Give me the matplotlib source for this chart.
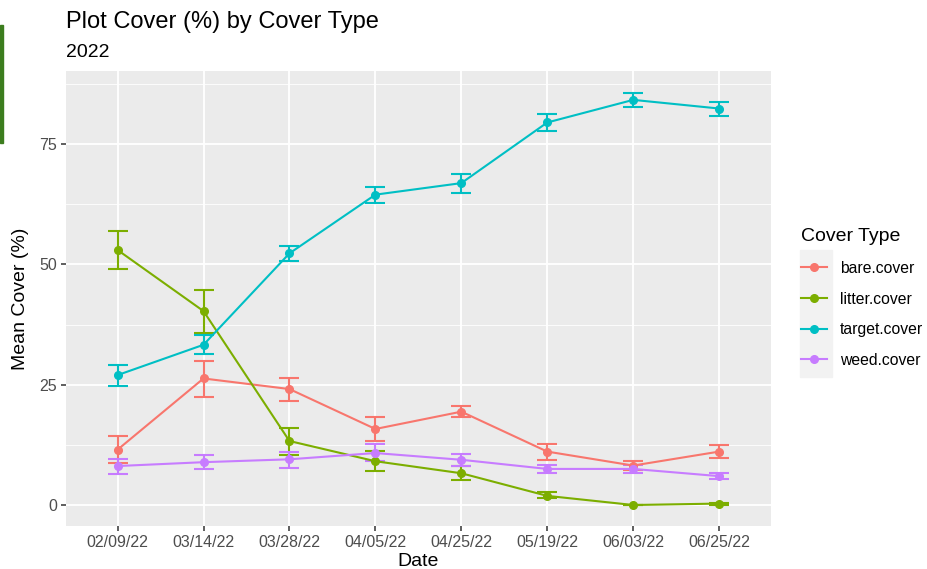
import numpy as np
import matplotlib
matplotlib.use("Agg")
import matplotlib.pyplot as plt
from matplotlib.lines import Line2D
from matplotlib.patches import Rectangle

plt.rcParams['font.family'] = ['Liberation Sans', 'DejaVu Sans']

dates = ["02/09/22", "03/14/22", "03/28/22", "04/05/22",
         "04/25/22", "05/19/22", "06/03/22", "06/25/22"]
cover_types = ["bare.cover", "litter.cover", "target.cover", "weed.cover"]
colors = ["#F8766D", "#7CAE00", "#00BFC4", "#C77CFF"]

# mean cover and error bar bounds
bare_mean = [11.5, 26.3, 24.1, 15.8, 19.4, 11.1, 8.2, 11.1]
bare_lo = [8.8, 22.5, 21.7, 13.3, 18.3, 9.3, 7.3, 9.7]
bare_hi = [14.3, 30.0, 26.3, 18.3, 20.5, 12.7, 9.1, 12.4]

litter_mean = [53.0, 40.3, 13.3, 9.1, 6.6, 1.9, 0.0, 0.3]
litter_lo = [49.0, 35.8, 10.4, 7.1, 5.3, 1.4, 0.0, 0.1]
litter_hi = [57.0, 44.7, 16.0, 11.2, 8.2, 2.6, 0.0, 0.5]

target_mean = [27.0, 33.3, 52.3, 64.5, 66.9, 79.5, 84.2, 82.4]
target_lo = [24.8, 31.4, 50.8, 62.8, 64.9, 77.7, 82.7, 80.9]
target_hi = [29.1, 35.3, 53.8, 66.1, 68.8, 81.3, 85.7, 83.8]

weed_mean = [8.1, 8.9, 9.5, 10.8, 9.4, 7.5, 7.5, 6.0]
weed_lo = [6.5, 7.4, 7.7, 9.1, 8.2, 6.6, 6.6, 5.4]
weed_hi = [9.6, 10.3, 11.1, 12.6, 10.5, 8.3, 8.4, 6.6]

means = [bare_mean, litter_mean, target_mean, weed_mean]
lows = [bare_lo, litter_lo, target_lo, weed_lo]
highs = [bare_hi, litter_hi, target_hi, weed_hi]

fig = plt.figure(figsize=(9.28, 5.69), dpi=100)
ax = fig.add_axes([66 / 928, 1 - 525.7 / 569, (770.7 - 66) / 928, (525.7 - 71) / 569])
ax.set_facecolor("#EBEBEB")

x = np.arange(1, len(dates) + 1)
for name, col, m, lo, hi in zip(cover_types, colors, means, lows, highs):
    m = np.array(m)
    err = [m - np.array(lo), np.array(hi) - m]
    ax.errorbar(x, m, yerr=err, color=col, lw=1.5, capsize=7.5, capthick=1.5,
                marker="o", ms=5.5, elinewidth=1.5, zorder=3, label=name)

ax.set_xlim(0.4, len(dates) + 0.6)
ax.set_ylim(-4.3, 90.2)
ax.set_xticks(x)
ax.set_xticklabels(dates)
ax.set_yticks([0, 25, 50, 75])
ax.set_yticks([12.5, 37.5, 62.5, 87.5], minor=True)
ax.grid(which="major", color="white", lw=1.3)
ax.grid(which="minor", axis="y", color="white", lw=0.6)
ax.set_axisbelow(True)
for s in ax.spines.values():
    s.set_visible(False)
ax.tick_params(which="major", length=3.5, width=1.1, color="#333333",
               labelcolor="#4D4D4D", labelsize=11.5, pad=3)
ax.tick_params(which="minor", length=0)

ax.set_xlabel("Date", fontsize=14, labelpad=2)
ax.set_ylabel("Mean Cover (%)", fontsize=14, labelpad=7)

fig.text(66 / 928, 1 - 28 / 569, "Plot Cover (%) by Cover Type", fontsize=17, va="baseline")
fig.text(66 / 928, 1 - 57 / 569, "2022", fontsize=14, va="baseline")

# legend key background
fig.patches.append(Rectangle((800 / 928, 1 - 377 / 569), 32 / 928, 127 / 569,
                             transform=fig.transFigure, color="#F2F2F2", zorder=0))
handles = [Line2D([], [], color=c, lw=1.5, marker="o", ms=5.5) for c in colors]
leg = fig.legend(handles, cover_types, loc="upper left",
                 bbox_to_anchor=(787 / 928, 1 - 214 / 569), frameon=False,
                 title="Cover Type", fontsize=11.3, title_fontsize=14,
                 handlelength=1.65, handletextpad=0.8, labelspacing=1.0)
leg._legend_box.align = "left"

# green strip at the left edge of the screenshot
fig.patches.append(Rectangle((0, 1 - 143 / 569), 3 / 928, 118 / 569,
                             transform=fig.transFigure, color="#3C7D1E"))

fig.savefig("out.png", dpi=100)
